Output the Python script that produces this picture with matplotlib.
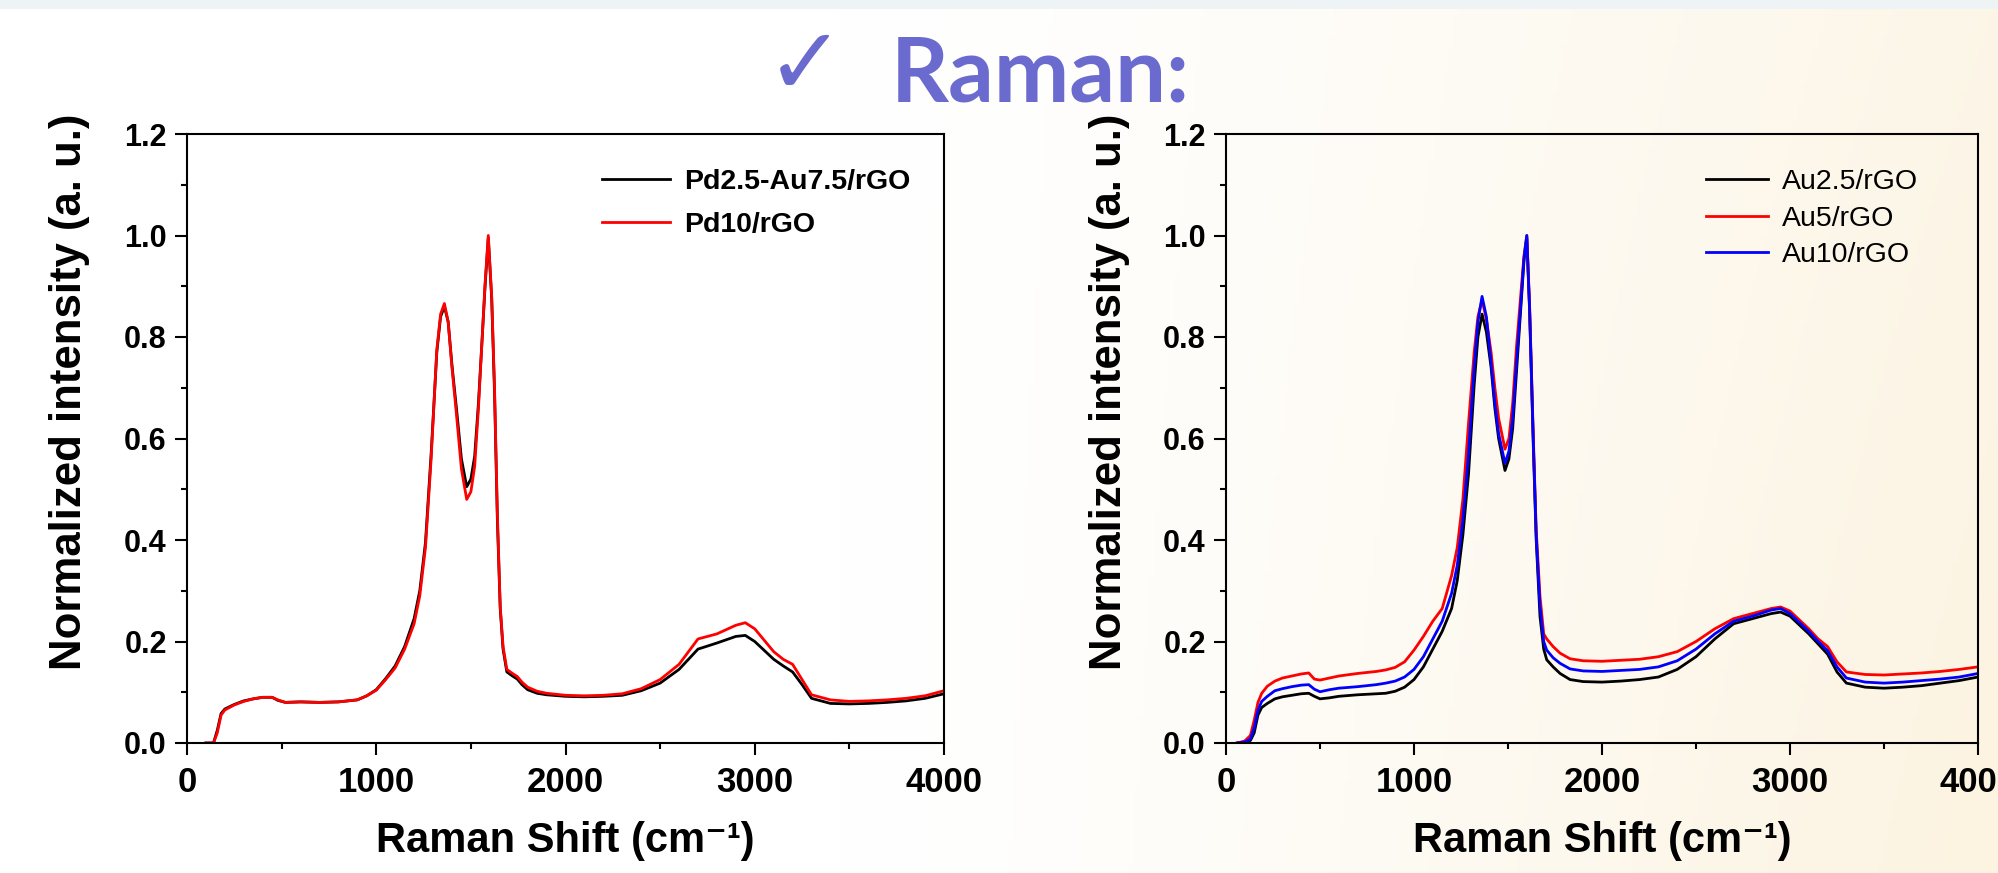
import numpy as np
import matplotlib
matplotlib.use("Agg")
from matplotlib import pyplot as plt
from matplotlib.ticker import MultipleLocator
from matplotlib.colors import to_rgb

# ---- left panel: Pd2.5-Au7.5/rGO vs Pd10/rGO
x_left = [100, 140, 160, 180, 200, 250, 300, 350, 400, 450, 480, 520, 600, 700, 800, 900, 950,
          1000, 1050, 1100, 1150, 1200, 1230, 1260, 1290, 1320, 1340, 1360, 1380, 1400, 1425,
          1450, 1478, 1500, 1520, 1540, 1560, 1575, 1592, 1610, 1625, 1640, 1655, 1670, 1690,
          1720, 1745, 1770, 1800, 1850, 1900, 2000, 2100, 2200, 2300, 2400, 2500, 2600, 2700,
          2800, 2900, 2950, 3000, 3100, 3150, 3200, 3250, 3300, 3400, 3500, 3600, 3700, 3800,
          3900, 4000]
pd_au = [0.0, 0.0, 0.025, 0.058, 0.067, 0.076, 0.083, 0.087, 0.09, 0.09, 0.084, 0.08, 0.081,
         0.08, 0.081, 0.085, 0.093, 0.105, 0.127, 0.152, 0.19, 0.245, 0.3, 0.395, 0.57, 0.77,
         0.84, 0.86, 0.83, 0.745, 0.655, 0.56, 0.505, 0.52, 0.565, 0.67, 0.8, 0.9, 0.995, 0.875,
         0.69, 0.44, 0.265, 0.185, 0.14, 0.132, 0.126, 0.115, 0.105, 0.098, 0.095, 0.092, 0.091,
         0.092, 0.094, 0.103, 0.118, 0.145, 0.185, 0.197, 0.21, 0.212, 0.2, 0.165, 0.152, 0.14,
         0.115, 0.088, 0.078, 0.077, 0.078, 0.08, 0.083, 0.088, 0.097]
pd10 = [0.0, 0.0, 0.02, 0.055, 0.065, 0.075, 0.082, 0.087, 0.09, 0.09, 0.085, 0.08, 0.081,
        0.08, 0.081, 0.085, 0.093, 0.104, 0.125, 0.148, 0.185, 0.235, 0.29, 0.385, 0.56, 0.775,
        0.845, 0.866, 0.83, 0.74, 0.643, 0.54, 0.48, 0.495, 0.545, 0.66, 0.8, 0.905, 1.0, 0.88,
        0.7, 0.45, 0.27, 0.19, 0.145, 0.137, 0.131, 0.12, 0.11, 0.102, 0.098, 0.094, 0.093,
        0.094, 0.097, 0.107, 0.125, 0.155, 0.205, 0.215, 0.232, 0.237, 0.225, 0.18, 0.165, 0.155,
        0.125, 0.095, 0.085, 0.082, 0.083, 0.085, 0.088, 0.093, 0.103]

# ---- right panel: Au loading series
x_right = [60, 100, 130, 150, 170, 190, 220, 260, 300, 350, 400, 440, 470, 500, 550, 600, 700,
           800, 850, 900, 950, 1000, 1050, 1100, 1150, 1200, 1230, 1260, 1290, 1320, 1340, 1362,
           1385, 1410, 1430, 1450, 1484, 1505, 1525, 1545, 1565, 1585, 1600, 1615, 1635, 1650,
           1670, 1690, 1706, 1740, 1777, 1830, 1900, 2000, 2100, 2200, 2300, 2400, 2500, 2600,
           2700, 2800, 2900, 2950, 3000, 3100, 3150, 3200, 3250, 3300, 3400, 3500, 3600, 3700,
           3800, 3900, 4000]
au25 = [0.0, 0.002, 0.005, 0.02, 0.055, 0.07, 0.078, 0.087, 0.091, 0.094, 0.097, 0.098, 0.092,
        0.087, 0.089, 0.092, 0.095, 0.097, 0.098, 0.102, 0.11, 0.125, 0.15, 0.185, 0.22, 0.265,
        0.32, 0.41, 0.53, 0.705, 0.8, 0.845, 0.81, 0.74, 0.66, 0.6, 0.537, 0.56, 0.62, 0.73,
        0.84, 0.95, 0.995, 0.85, 0.58, 0.4, 0.25, 0.185, 0.164, 0.15, 0.137, 0.125, 0.121, 0.12,
        0.122, 0.125, 0.13, 0.145, 0.17, 0.205, 0.235, 0.245, 0.255, 0.258, 0.25, 0.215, 0.195,
        0.175, 0.14, 0.118, 0.11, 0.108, 0.11, 0.113, 0.118, 0.123, 0.13]
au5 = [0.0, 0.004, 0.015, 0.045, 0.08, 0.098, 0.112, 0.122, 0.128, 0.132, 0.136, 0.138, 0.126,
       0.124, 0.128, 0.132, 0.137, 0.141, 0.144, 0.149, 0.16, 0.183, 0.21, 0.24, 0.265, 0.33,
       0.385, 0.48, 0.63, 0.77, 0.84, 0.873, 0.835, 0.77, 0.7, 0.64, 0.579, 0.6, 0.67, 0.78,
       0.87, 0.96, 1.0, 0.86, 0.6, 0.42, 0.29, 0.215, 0.205, 0.19, 0.177, 0.166, 0.162, 0.161,
       0.163, 0.165, 0.17, 0.18, 0.2, 0.225, 0.245, 0.255, 0.265, 0.268, 0.26, 0.225, 0.205,
       0.19, 0.16, 0.14, 0.135, 0.134, 0.136, 0.138, 0.141, 0.145, 0.15]
au10 = [0.0, 0.002, 0.008, 0.03, 0.065, 0.082, 0.092, 0.103, 0.107, 0.111, 0.114, 0.115, 0.106,
        0.101, 0.105, 0.108, 0.111, 0.115, 0.118, 0.122, 0.13, 0.145, 0.17, 0.205, 0.24, 0.295,
        0.35, 0.44, 0.57, 0.74, 0.83, 0.88, 0.84, 0.75, 0.67, 0.61, 0.551, 0.575, 0.64, 0.75,
        0.85, 0.955, 1.0, 0.855, 0.59, 0.41, 0.27, 0.2, 0.183, 0.168, 0.157, 0.146, 0.142, 0.141,
        0.143, 0.145, 0.15, 0.162, 0.185, 0.215, 0.24, 0.25, 0.262, 0.265, 0.255, 0.22, 0.2,
        0.182, 0.15, 0.128, 0.12, 0.118, 0.12, 0.123, 0.126, 0.13, 0.137]

xticks = [0, 1000, 2000, 3000, 4000]
yticks = [0.0, 0.2, 0.4, 0.6, 0.8, 1.0, 1.2]

font = "Liberation Sans"

W, H = 1998, 873
fig = plt.figure(figsize=(W / 100, H / 100), dpi=100)

# slide background: white on the left fading to cream on the right, thin strip on top
bg = fig.add_axes([0, 0, 1, 1], zorder=-10)
gx = np.linspace(0, 1, 400)
gy = np.linspace(0, 1, 200)
GX, GY = np.meshgrid(gx, gy)
t = np.clip((GX - 0.42) / 0.58, 0, 1) ** 1.3
t = t * (0.75 + 0.25 * GY)
white = np.array([1.0, 1.0, 1.0])
cream = np.array(to_rgb("#FCF3E0"))
img = white[None, None, :] * (1 - t[..., None]) + cream[None, None, :] * t[..., None]
strip = int(200 * 9 / H)
img[:strip] = to_rgb("#EEF4F5")
bg.imshow(img, extent=[0, 1, 0, 1], aspect="auto", origin="upper")
bg.axis("off")

purple = "#6B6BCF"
fig.text(805 / W, 1 - 94 / H, "\u2713", fontsize=68, color=purple, family="DejaVu Sans",
         weight="bold", ha="center", va="baseline")
fig.text(891 / W, 1 - 101 / H, "Raman:", fontsize=65, color=purple, family="Lato",
         weight="bold", ha="left", va="baseline")


def style(ax):
    ax.set_xlim(0, 4000)
    ax.set_ylim(0, 1.2)
    ax.set_xticks(xticks)
    ax.set_yticks(yticks)
    ax.xaxis.set_minor_locator(MultipleLocator(500))
    ax.yaxis.set_minor_locator(MultipleLocator(0.1))
    ax.set_yticklabels([f"{v:.1f}" for v in yticks])
    ax.tick_params(which="major", direction="out", length=8.5, width=1.5, top=False, right=False)
    ax.tick_params(which="minor", direction="out", length=4, width=1.5, top=False, right=False)
    ax.tick_params(axis="x", pad=8)
    ax.tick_params(axis="y", pad=6)
    for lab in ax.get_xticklabels():
        lab.set_fontfamily(font)
        lab.set_fontweight("bold")
        lab.set_fontsize(25)
    for lab in ax.get_yticklabels():
        lab.set_fontfamily(font)
        lab.set_fontweight("bold")
        lab.set_fontsize(22)
    for sp in ax.spines.values():
        sp.set_linewidth(1.5)
    ax.set_xlabel("Raman Shift (cm\u207b\u00b9)", family=[font, "DejaVu Sans"], weight="bold",
                  fontsize=30, labelpad=16)
    ax.set_ylabel("Normalized intensity (a. u.)", family=font, weight="bold", fontsize=31.5)
    ax.yaxis.set_label_coords(-0.128, 0.576)
    ax.patch.set_alpha(0)


axL = fig.add_axes([187 / W, 1 - 743 / H, 757 / W, 609 / H])
axL.plot(x_left, pd_au, color="black", lw=2.0, label="Pd2.5-Au7.5/rGO")
axL.plot(x_left, pd10, color="red", lw=2.0, label="Pd10/rGO")
style(axL)
axL.legend(loc="upper right", bbox_to_anchor=(0.99, 0.985), frameon=False,
           prop={"family": font, "weight": "bold", "size": 20.5},
           handlelength=2.4, handletextpad=0.5, labelspacing=0.6)

axR = fig.add_axes([1226 / W, 1 - 743 / H, 752 / W, 609 / H])
axR.plot(x_right, au25, color="black", lw=2.0, label="Au2.5/rGO")
axR.plot(x_right, au5, color="red", lw=2.0, label="Au5/rGO")
axR.plot(x_right, au10, color="blue", lw=2.0, label="Au10/rGO")
style(axR)
axR.legend(loc="upper right", bbox_to_anchor=(0.955, 0.985), frameon=False,
           prop={"family": font, "size": 20.5},
           handlelength=2.2, handletextpad=0.5, labelspacing=0.38)

fig.savefig("out.png", dpi=100)
